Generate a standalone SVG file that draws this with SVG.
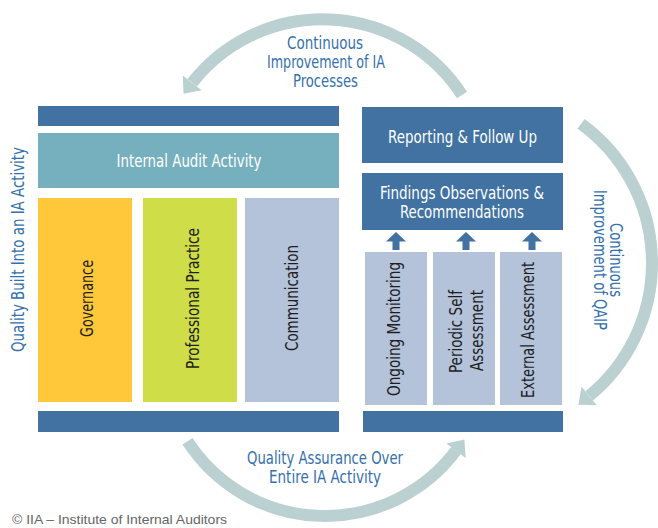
<svg xmlns="http://www.w3.org/2000/svg" width="658" height="528" viewBox="0 0 658 528">
<defs>
<style>
.t{font-family:"Liberation Sans Narrow","DejaVu Sans Condensed","Liberation Sans",Arial,sans-serif;font-size:18px;text-anchor:middle}
.s17{font-size:17px}
.w{fill:#ffffff}
.k{fill:#1e1e1e}
.b{fill:#3470AC}
.bar{fill:#4172A2}
.pale{fill:#B4C2DA}
.arc{fill:none;stroke:#BBD0D1;stroke-width:12}
.copy{font-family:"Liberation Sans",Arial,sans-serif;font-size:13px;fill:#666666}
</style>
<marker id="head" markerUnits="userSpaceOnUse" viewBox="-1 -13 16 26" markerWidth="16" markerHeight="26" refX="0" refY="0" orient="auto">
<path d="M0,-12 L14,0 L0,12 Z" fill="#BBD0D1"/>
</marker>
<path id="up" d="M0,0 L10,9.5 L3.5,9.5 L3.5,18 L-3.5,18 L-3.5,9.5 L-10,9.5 Z" fill="#4172A2"/>
</defs>

<g id="connectors">
<path class="arc" d="M462,95 A166,166 0 0 0 192.2,82.8" marker-end="url(#head)"/>
<path class="arc" d="M581.1,123.9 A172,172 0 0 1 589.2,395.9" marker-end="url(#head)"/>
<path class="arc" d="M187.5,441.3 A164,164 0 0 0 456,450.7" marker-end="url(#head)"/>
<use href="#up" x="396" y="232"/>
<use href="#up" x="466" y="232"/>
<use href="#up" x="532" y="232"/>
</g>

<g id="left-top-bar"><rect class="bar" x="38" y="106" width="301" height="20"/></g>
<g id="internal-audit-activity">
<rect x="38" y="133" width="301" height="55" fill="#76AFBD"/>
<text class="t w" x="189" y="167" textLength="145" lengthAdjust="spacingAndGlyphs">Internal Audit Activity</text>
</g>
<g id="governance">
<rect x="38" y="198" width="94" height="204" fill="#FFC73A"/>
<text class="t k" transform="translate(93,298.5) rotate(-90)" textLength="77" lengthAdjust="spacingAndGlyphs">Governance</text>
</g>
<g id="professional-practice">
<rect x="143" y="198" width="94" height="204" fill="#CFDD49"/>
<text class="t k" transform="translate(199,298.5) rotate(-90)" textLength="141" lengthAdjust="spacingAndGlyphs">Professional Practice</text>
</g>
<g id="communication">
<rect class="pale" x="245" y="198" width="94" height="204"/>
<text class="t k" transform="translate(298,298) rotate(-90)" textLength="106" lengthAdjust="spacingAndGlyphs">Communication</text>
</g>
<g id="left-bottom-bar"><rect class="bar" x="38" y="411" width="301" height="21"/></g>

<g id="reporting">
<rect class="bar" x="362" y="107" width="201" height="56"/>
<text class="t w" x="462.5" y="143" textLength="149" lengthAdjust="spacingAndGlyphs">Reporting &amp; Follow Up</text>
</g>
<g id="findings">
<rect class="bar" x="362" y="173" width="201" height="57"/>
<text class="t w" x="462" y="199" textLength="164" lengthAdjust="spacingAndGlyphs">Findings Observations &amp;</text>
<text class="t w" x="462" y="218" textLength="124" lengthAdjust="spacingAndGlyphs">Recommendations</text>
</g>
<g id="ongoing-monitoring">
<rect class="pale" x="365" y="252" width="62" height="153"/>
<text class="t k" transform="translate(400,329) rotate(-90)" textLength="134" lengthAdjust="spacingAndGlyphs">Ongoing Monitoring</text>
</g>
<g id="periodic-self-assessment">
<rect class="pale" x="433" y="252" width="62" height="153"/>
<text class="t k" transform="translate(462,331.5) rotate(-90)" textLength="83" lengthAdjust="spacingAndGlyphs">Periodic Self</text>
<text class="t k" transform="translate(483,330.5) rotate(-90)" textLength="81" lengthAdjust="spacingAndGlyphs">Assessment</text>
</g>
<g id="external-assessment">
<rect class="pale" x="500" y="252" width="62" height="153"/>
<text class="t k" transform="translate(534,330) rotate(-90)" textLength="136" lengthAdjust="spacingAndGlyphs">External Assessment</text>
</g>
<g id="right-bottom-bar"><rect class="bar" x="363" y="411" width="200" height="21"/></g>

<g id="label-quality-built">
<text class="t b" transform="translate(23.5,249.5) rotate(-90)" textLength="205" lengthAdjust="spacingAndGlyphs">Quality Built Into an IA Activity</text>
</g>
<g id="label-ci-processes">
<text class="t b s17" x="325" y="49" textLength="76" lengthAdjust="spacingAndGlyphs">Continuous</text>
<text class="t b s17" x="326" y="68" textLength="118" lengthAdjust="spacingAndGlyphs">Improvement of IA</text>
<text class="t b s17" x="325.5" y="87" textLength="65" lengthAdjust="spacingAndGlyphs">Processes</text>
</g>
<g id="label-ci-qaip">
<text class="t b" transform="translate(610,260) rotate(90)" textLength="74" lengthAdjust="spacingAndGlyphs">Continuous</text>
<text class="t b" transform="translate(594,260) rotate(90)" textLength="140" lengthAdjust="spacingAndGlyphs">Improvement of QAIP</text>
</g>
<g id="label-qa">
<text class="t b" x="325" y="464" textLength="156" lengthAdjust="spacingAndGlyphs">Quality Assurance Over</text>
<text class="t b" x="325" y="483" textLength="112" lengthAdjust="spacingAndGlyphs">Entire IA Activity</text>
</g>
<g id="copyright">
<text class="copy" x="12" y="524" textLength="215" lengthAdjust="spacingAndGlyphs">© IIA – Institute of Internal Auditors</text>
</g>
</svg>
